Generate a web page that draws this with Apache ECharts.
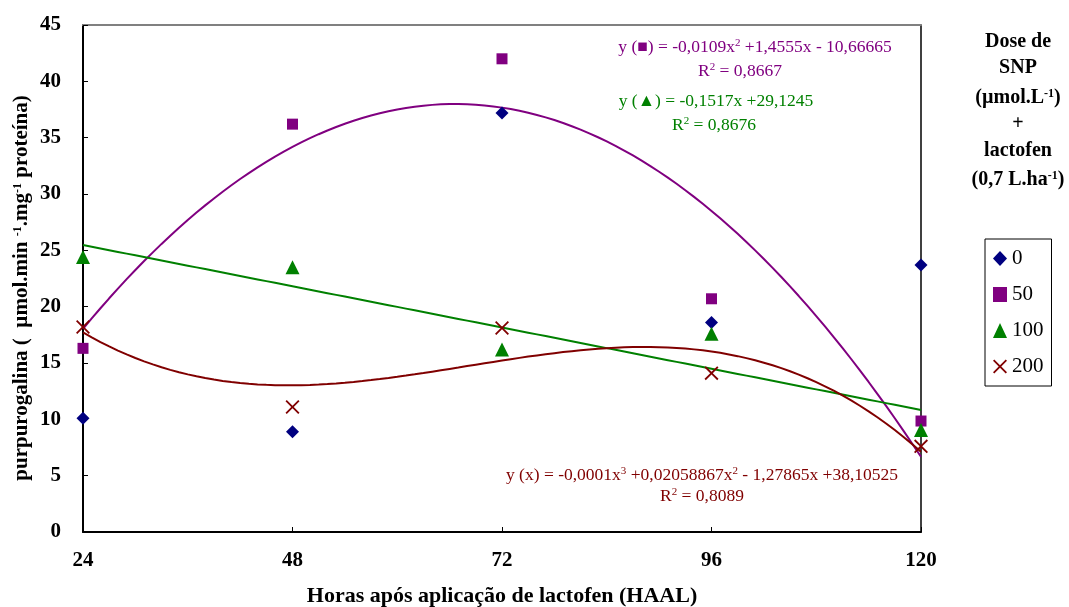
<!DOCTYPE html>
<html>
<head>
<meta charset="utf-8">
<script src="https://cdn.jsdelivr.net/npm/echarts@6/dist/echarts.min.js"></script>
<style>
  html, body { margin: 0; padding: 0; background: #fff; }
  #chart { width: 1069px; height: 607px; }
</style>
</head>
<body>
<div id="chart"></div>
<script>
// Hours after lactofen application (HAAL)
const hours = [24, 48, 72, 96, 120];
const xTicks = [24, 48, 72, 96, 120];

// Purpurogallin activity per SNP dose (µmol.L-1)
const dose0   = [10.1, 8.9, 37.2, 18.6, 23.7];
const dose50  = [16.3, 36.2, 42.0, 20.7, 9.85];
const dose100 = [24.4, 23.5, 16.2, 17.6, 9.05];
const dose200 = [18.2, 11.1, 18.1, 14.1, 7.6];

const doseNames = ['0', '50', '100', '200'];

const SERIF = "'Liberation Serif', 'Times New Roman', serif";
const C_NAVY = '#000080', C_PURPLE = '#800080', C_GREEN = '#008000', C_RED = '#800000';
const CROSS = 'path://M0,1.1L1.1,0L6,4.9L10.9,0L12,1.1L7.1,6L12,10.9L10.9,12L6,7.1L1.1,12L0,10.9L4.9,6Z';

// Least-squares polynomial trendline (x centred/scaled for stability)
function polyfit(xs, ys, deg) {
  const n = deg + 1;
  const t = xs.map(x => (x - 72) / 24);
  const A = [];
  for (let r = 0; r < n; r++) {
    A.push([]);
    for (let c = 0; c < n; c++) {
      A[r].push(t.reduce((s, v) => s + Math.pow(v, r + c), 0));
    }
    A[r].push(t.reduce((s, v, i) => s + Math.pow(v, r) * ys[i], 0));
  }
  for (let i = 0; i < n; i++) {
    let p = i;
    for (let k = i + 1; k < n; k++) if (Math.abs(A[k][i]) > Math.abs(A[p][i])) p = k;
    [A[i], A[p]] = [A[p], A[i]];
    for (let k = 0; k < n; k++) {
      if (k === i) continue;
      const f = A[k][i] / A[i][i];
      for (let c = i; c <= n; c++) A[k][c] -= f * A[i][c];
    }
  }
  const coef = A.map((row, i) => row[n] / row[i]);
  return x => {
    const tt = (x - 72) / 24;
    return coef.reduce((s, c, i) => s + c * Math.pow(tt, i), 0);
  };
}

function trend(ys, deg) {
  const f = polyfit(hours, ys, deg);
  const pts = [];
  for (let x = hours[0]; x <= hours[hours.length - 1]; x += 1) pts.push([x, f(x)]);
  return pts;
}

const pairs = ys => hours.map((h, i) => [h, ys[i]]);

const chart = echarts.init(document.getElementById('chart'), null, { renderer: 'canvas' });

const labelFont = { fontFamily: SERIF, fontWeight: 'bold', fontSize: 21, color: '#000' };

const supBold = { fontFamily: SERIF, fontWeight: 'bold', fontSize: 12, verticalAlign: 'top', fill: '#000' };

function txt(x, y, text, style) {
  return {
    type: 'text', x: x, y: y, silent: true,
    style: Object.assign({ text: text, textAlign: 'center', textVerticalAlign: 'middle', fontFamily: SERIF }, style)
  };
}

const eqStyle = (color) => ({ fontSize: 17.5, fill: color, rich: { s: { fontSize: 11, verticalAlign: 'top', fill: color, fontFamily: SERIF } } });
const headStyle = (extra) => Object.assign({ fontWeight: 'bold', fontSize: 20, fill: '#000' }, extra || {});

chart.setOption({
  animation: false,
  backgroundColor: '#fff',
  grid: { left: 83, right: 148, top: 25, bottom: 75 },
  xAxis: [{
    type: 'value', min: 24, max: 120, interval: 24,
    axisLine: { onZero: false, lineStyle: { color: '#000', width: 2 } },
    axisTick: { inside: true, length: 5, lineStyle: { color: '#000', width: 1 } },
    axisLabel: Object.assign({ margin: 18, formatter: v => xTicks.includes(v) ? String(v) : '' }, labelFont),
    splitLine: { show: false }
  }, {
    type: 'value', position: 'top', min: 24, max: 120,
    axisLine: { show: true, onZero: false, lineStyle: { color: '#808080', width: 2 } },
    axisTick: { show: false }, axisLabel: { show: false }, splitLine: { show: false }
  }],
  yAxis: [{
    type: 'value', min: 0, max: 45, interval: 5,
    axisLine: { show: true, onZero: false, lineStyle: { color: '#000', width: 2 } },
    axisTick: { show: true, inside: true, length: 5, lineStyle: { color: '#000', width: 1 } },
    axisLabel: Object.assign({ margin: 22 }, labelFont),
    splitLine: { show: false }
  }, {
    type: 'value', position: 'right', min: 0, max: 45,
    axisLine: { show: true, onZero: false, lineStyle: { color: '#000', width: 1.5 } },
    axisTick: { show: false }, axisLabel: { show: false }, splitLine: { show: false }
  }],
  legend: {
    orient: 'vertical', left: 985, top: 239,
    borderColor: '#000', borderWidth: 1, borderRadius: 0,
    padding: [9, 8, 9, 8], itemGap: 15, itemWidth: 14, itemHeight: 15,
    textStyle: { fontFamily: SERIF, fontSize: 21, color: '#000' },
    data: [
      { name: '0', icon: 'diamond' },
      { name: '50', icon: 'rect' },
      { name: '100', icon: 'triangle' },
      { name: '200', icon: CROSS }
    ]
  },
  series: [
    { name: 'trend50', type: 'line', data: trend(dose50, 2), showSymbol: false, symbol: 'none',
      lineStyle: { color: C_PURPLE, width: 2 }, z: 2 },
    { name: 'trend100', type: 'line', data: trend(dose100, 1), showSymbol: false, symbol: 'none',
      lineStyle: { color: C_GREEN, width: 2 }, z: 2 },
    { name: 'trend200', type: 'line', data: trend(dose200, 3), showSymbol: false, symbol: 'none',
      lineStyle: { color: C_RED, width: 2 }, z: 2 },
    { name: doseNames[0], type: 'scatter', data: pairs(dose0), symbol: 'diamond', symbolSize: 13,
      itemStyle: { color: C_NAVY, opacity: 1 }, z: 5 },
    { name: doseNames[1], type: 'scatter', data: pairs(dose50), symbol: 'rect', symbolSize: 11,
      itemStyle: { color: C_PURPLE, opacity: 1 }, z: 5 },
    { name: doseNames[2], type: 'scatter', data: pairs(dose100), symbol: 'triangle', symbolSize: 14,
      itemStyle: { color: C_GREEN, opacity: 1 }, z: 5 },
    { name: doseNames[3], type: 'scatter', data: pairs(dose200), symbol: CROSS, symbolSize: 14,
      itemStyle: { color: C_RED, opacity: 1 }, z: 5 }
  ],
  graphic: [
    // y-axis title
    {
      type: 'text', x: 22, y: 288, rotation: Math.PI / 2, silent: true,
      style: {
        text: 'purpurogalina (  µmol.min {s|-1}.mg{s|-1} proteína)',
        textAlign: 'center', textVerticalAlign: 'middle',
        fontFamily: SERIF, fontWeight: 'bold', fontSize: 21, fill: '#000',
        rich: { s: supBold }
      }
    },
    // x-axis title
    txt(502, 596, 'Horas após aplicação de lactofen (HAAL)', { fontWeight: 'bold', fontSize: 22, fill: '#000' }),
    // legend heading
    txt(1018, 42, 'Dose de', headStyle()),
    txt(1018, 68, 'SNP', headStyle()),
    txt(1018, 98, '(µmol.L{s|-1})', headStyle({ rich: { s: supBold } })),
    txt(1018, 124, '+', headStyle()),
    txt(1018, 151, 'lactofen', headStyle()),
    txt(1018, 180, '(0,7 L.ha{s|-1})', headStyle({ rich: { s: supBold } })),
    // regression equations
    txt(755, 47, 'y (■) = -0,0109x{s|2} +1,4555x - 10,66665', eqStyle(C_PURPLE)),
    txt(740, 71, 'R{s|2} = 0,8667', eqStyle(C_PURPLE)),
    txt(716, 101, 'y (▲) = -0,1517x +29,1245', eqStyle(C_GREEN)),
    txt(714, 125, 'R{s|2} = 0,8676', eqStyle(C_GREEN)),
    txt(702, 475, 'y (x) = -0,0001x{s|3} +0,02058867x{s|2} - 1,27865x +38,10525', eqStyle(C_RED)),
    txt(702, 496, 'R{s|2} = 0,8089', eqStyle(C_RED))
  ]
});
</script>
</body>
</html>
